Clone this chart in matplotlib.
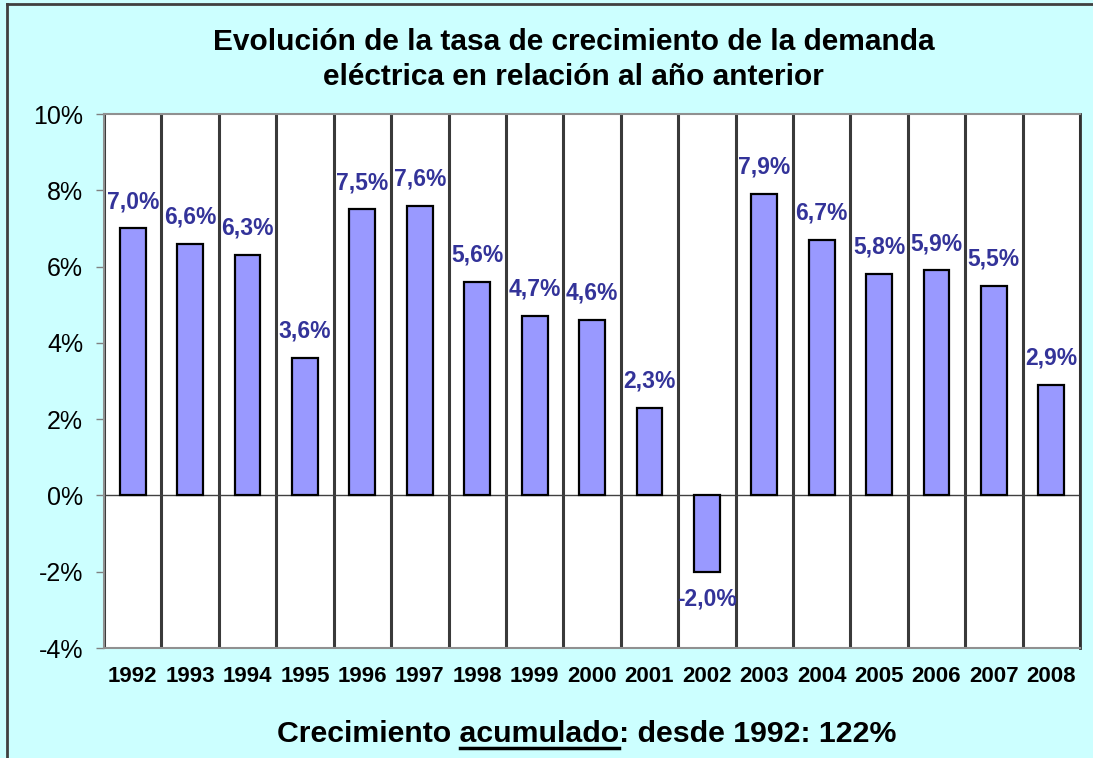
import numpy as np
import matplotlib
matplotlib.use("Agg")
import matplotlib.pyplot as plt
from matplotlib.lines import Line2D
from matplotlib.ticker import FuncFormatter

plt.rcParams['font.family'] = ['Liberation Sans', 'DejaVu Sans']

# data (growth vs previous year, %)
years = ['1992', '1993', '1994', '1995', '1996', '1997', '1998', '1999', '2000',
         '2001', '2002', '2003', '2004', '2005', '2006', '2007', '2008']
growth = [7.0, 6.6, 6.3, 3.6, 7.5, 7.6, 5.6, 4.7, 4.6,
          2.3, -2.0, 7.9, 6.7, 5.8, 5.9, 5.5, 2.9]
y_ticks = [-4, -2, 0, 2, 4, 6, 8, 10]

title_1 = 'Evolución de la tasa de crecimiento de la demanda'
title_2 = 'eléctrica en relación al año anterior'
foot_pre = 'Crecimiento '
foot_ul = 'acumulado'
foot_post = ': desde 1992: 122%'

bg = '#CCFFFF'
bar_col = '#9999FF'
lab_col = '#333399'

fig = plt.figure(figsize=(10.93, 7.58), dpi=100)
fig.patch.set_facecolor(bg)
ax = fig.add_axes([0.0952, 0.1451, 0.8929, 0.7045])
ax.set_facecolor('white')

x = np.arange(len(years))
bars = ax.bar(x, growth, width=0.45, color=bar_col, edgecolor='black', linewidth=1.6, zorder=3)

# value labels above (or below for negatives)
for xi, v in zip(x, growth):
    lab = ('%.1f%%' % v).replace('.', ',')
    if v >= 0:
        ax.annotate(lab, (xi, v), xytext=(0, 11), textcoords='offset points',
                    ha='center', va='bottom', color=lab_col, fontsize=16.5,
                    fontweight='bold', zorder=4)
    else:
        ax.annotate(lab, (xi, v), xytext=(0, -11), textcoords='offset points',
                    ha='center', va='top', color=lab_col, fontsize=16.5,
                    fontweight='bold', zorder=4)

ax.set_xlim(-0.5, len(years) - 0.5)
ax.set_ylim(-4, 10)

# vertical separators between categories
ax.set_xticks(np.arange(-0.5, len(years), 1), minor=True)
ax.grid(which='minor', axis='x', color='#3a3a3a', linewidth=2.2, zorder=1)
ax.tick_params(axis='x', which='minor', length=0)
ax.set_xticks(x)
ax.set_xticklabels(years, fontsize=16, fontweight='bold')
ax.tick_params(axis='x', which='major', length=0, pad=13)

ax.set_yticks(y_ticks)
ax.yaxis.set_major_formatter(FuncFormatter(lambda v, p: '%d%%' % v))
ax.tick_params(axis='y', length=6, width=1, color='#808080', labelsize=18, pad=9)

ax.axhline(0, color='#404040', linewidth=1, zorder=2)

for s in ['left', 'top', 'bottom']:
    ax.spines[s].set_color('#909090')
    ax.spines[s].set_linewidth(1.5)
ax.spines['right'].set_color('#303030')
ax.spines['right'].set_linewidth(2)

# titles
fig.text(0.525, 0.945, title_1, ha='center', va='center', fontsize=21.5, fontweight='bold')
fig.text(0.525, 0.899, title_2, ha='center', va='center', fontsize=21.5, fontweight='bold')

# footer with underlined word
fs_foot = 21.8
foot = fig.text(0.537, 0.0215, foot_pre + foot_ul + foot_post, ha='center', va='baseline',
                fontsize=fs_foot, fontweight='bold')
fig.canvas.draw()
r = fig.canvas.get_renderer()
bb = foot.get_window_extent(r)
t_a = fig.text(0, 0, foot_pre + foot_ul, fontsize=fs_foot, fontweight='bold')
t_b = fig.text(0, 0, foot_ul, fontsize=fs_foot, fontweight='bold')
w_a = t_a.get_window_extent(r).width
w_b = t_b.get_window_extent(r).width
t_a.remove()
t_b.remove()
W = fig.bbox.width
x1 = (bb.x0 + w_a - w_b) / W
x2 = (bb.x0 + w_a) / W
fig.add_artist(Line2D([x1, x2], [0.0135, 0.0135], color='black', linewidth=2.5))

# outer frame (left and top visible)
fig.add_artist(Line2D([0.0064, 0.0064], [0, 0.9947], color='#404040', linewidth=2))
fig.add_artist(Line2D([0.0064, 1], [0.9947, 0.9947], color='#404040', linewidth=2))

fig.savefig('out.png', dpi=100, facecolor=fig.get_facecolor())
